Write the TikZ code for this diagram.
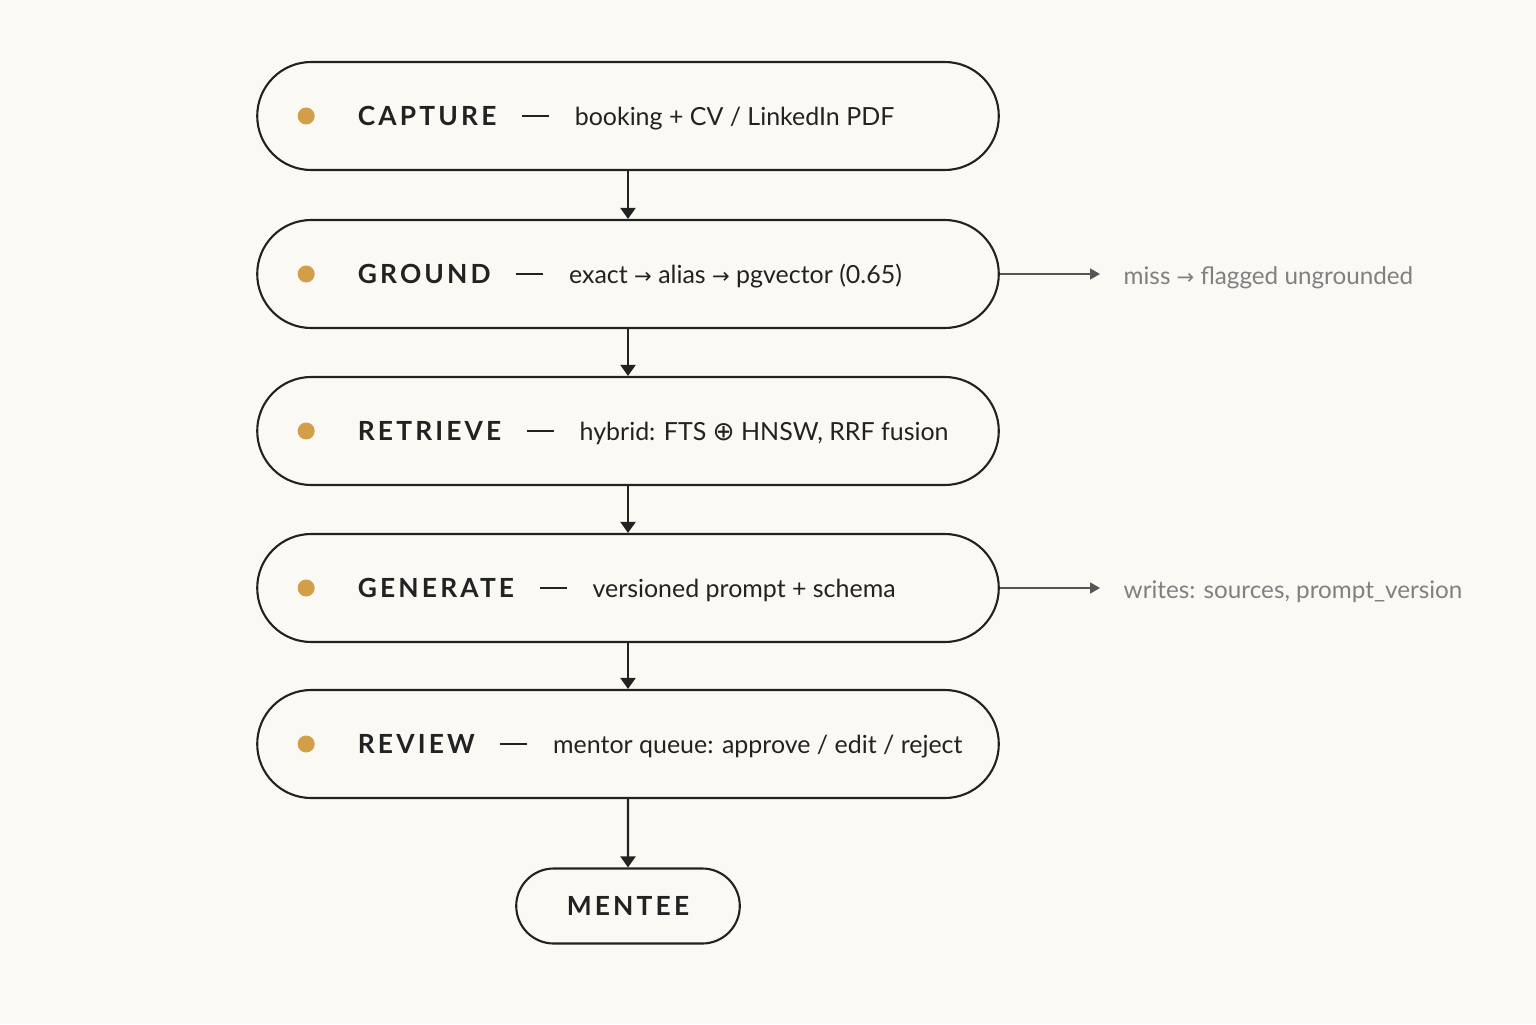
\documentclass[tikz,border=0pt]{standalone}
\usepackage{fontspec}
\setmainfont{Lato}
\newfontfamily\titlefont{Lato}[LetterSpace=12]
\newfontfamily\symfont{DejaVu Sans}
\usetikzlibrary{shapes.misc,positioning,arrows.meta}

\definecolor{paper}{RGB}{251,249,244}
\definecolor{ink}{RGB}{34,34,34}
\definecolor{gold}{RGB}{210,158,72}
\definecolor{note}{RGB}{128,128,128}
\definecolor{noteline}{RGB}{85,85,85}

\newcommand\symarrow{{\symfont\fontsize{6}{8}\selectfont →}}
\newcommand\symplus{{\symfont\fontsize{7.5}{8}\selectfont ⊕}}
\newcommand\longdash{\rule[0.085cm]{0.27cm}{0.55pt}}

\tikzset{
  stage/.style={draw=ink, line width=0.6pt, rounded rectangle,
    minimum width=7.65cm, minimum height=1.08cm, fill=paper},
  bullet/.style={circle, fill=gold, inner sep=0pt, minimum size=0.17cm},
  title/.style={font=\titlefont\bfseries\fontsize{7.5}{9}\selectfont,
    text=ink, inner sep=0pt, anchor=base west},
  desc/.style={font=\fontsize{7.1}{9}\selectfont, text=ink, inner sep=0pt},
  flow/.style={-{Triangle[length=1.1mm,width=1.5mm]}, line width=0.6pt, draw=ink},
  aside/.style={-{Triangle[length=1mm,width=1.1mm]}, line width=0.5pt, draw=noteline},
  sidenote/.style={font=\fontsize{6.9}{9}\selectfont, text=note, inner sep=0pt,
    anchor=base west}
}

% bullet, title and description inside one stage
\newcommand\stagetext[3]{%
  \node[bullet] (#1-b) at ([xshift=0.5cm]#1.west) {};
  \node[title] (#1-t) at ([xshift=1.01cm,yshift=-0.095cm]#1.west) {#2};
  \node[desc, right=0.24cm of #1-t.base east, anchor=base west] (#1-d)
    {\longdash\hspace{0.26cm}#3};
}

\begin{document}
\begin{tikzpicture}
  \useasboundingbox[fill=paper] (0,0) rectangle (15.36,10.24);

  % Stages
  \node[stage] (capture) at (6.28,9.08) {};
  \node[stage] (ground) at (6.28,7.50) {};
  \node[stage] (retrieve) at (6.28,5.93) {};
  \node[stage] (generate) at (6.28,4.36) {};
  \node[stage] (review) at (6.28,2.80) {};
  \node[stage, minimum width=2.47cm, minimum height=0.75cm,
    font=\titlefont\bfseries\fontsize{7.5}{9}\selectfont, text=ink]
    (mentee) at (6.28,1.18) {MENTEE};

  % Labels
  \stagetext{capture}{CAPTURE}{booking + CV / LinkedIn PDF}
  \stagetext{ground}{GROUND}{exact \symarrow{} alias \symarrow{} pgvector (0.65)}
  \stagetext{retrieve}{RETRIEVE}{hybrid: FTS \symplus{} HNSW, RRF fusion}
  \stagetext{generate}{GENERATE}{versioned prompt + schema}
  \stagetext{review}{REVIEW}{mentor queue: approve / edit / reject}

  % Flow
  \draw[flow] (capture) -- (ground);
  \draw[flow] (ground) -- (retrieve);
  \draw[flow] (retrieve) -- (generate);
  \draw[flow] (generate) -- (review);
  \draw[flow] (review) -- (mentee);

  % Side notes
  \node[sidenote] (miss) at (11.23,7.39) {miss \symarrow{} flagged ungrounded};
  \node[sidenote] (writes) at (11.23,4.26) {writes: sources, prompt\_version};
  \draw[aside] (ground.east) -- ([xshift=-0.23cm]ground.east -| miss.west);
  \draw[aside] (generate.east) -- ([xshift=-0.23cm]generate.east -| writes.west);
\end{tikzpicture}
\end{document}
